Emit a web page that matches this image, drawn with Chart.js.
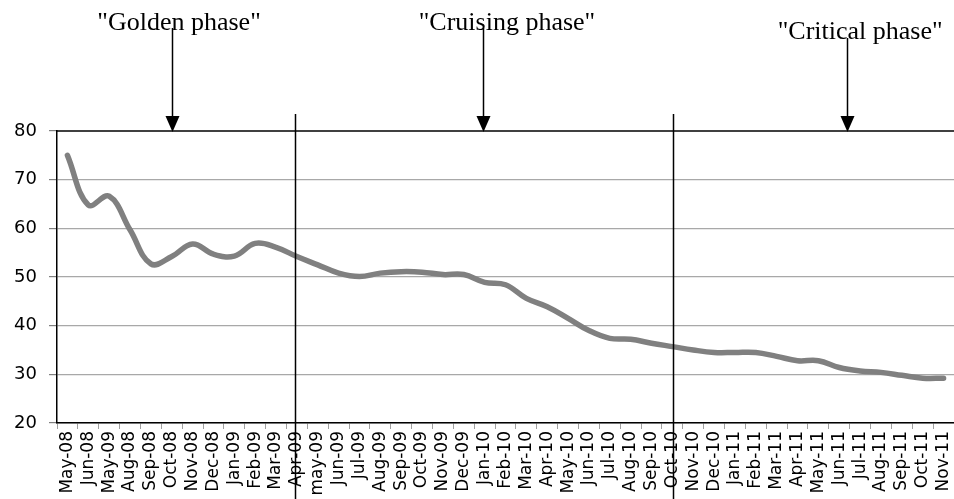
<!DOCTYPE html>
<html>
<head>
<meta charset="utf-8">
<script src="https://cdn.jsdelivr.net/npm/chart.js@4/dist/chart.umd.min.js"></script>
<style>
html,body{margin:0;padding:0;background:#fff;}
#wrap{width:954px;height:499px;position:relative;}
</style>
</head>
<body>
<div id="wrap"><canvas id="c" width="954" height="499"></canvas></div>
<script>
const categories = ['May-08','Jun-08','May-09','Aug-08','Sep-08','Oct-08','Nov-08','Dec-08','Jan-09','Feb-09','Mar-09','Apr-09',
 'may-09','Jun-09','Jul-09','Aug-09','Sep-09','Oct-09','Nov-09','Dec-09','Jan-10','Feb-10','Mar-10','Apr-10','May-10','Jun-10','Jul-10','Aug-10','Sep-10','Oct-10',
 'Nov-10','Dec-10','Jan-11','Feb-11','Mar-11','Apr-11','May-11','Jun-11','Jul-11','Aug-11','Sep-11','Oct-11','Nov-11'];
const values = [75.0,64.8,66.6,59.7,52.7,54.2,56.8,54.7,54.3,56.9,56.1,54.2,
 52.5,50.8,50.1,50.8,51.1,51.0,50.5,50.5,48.9,48.4,45.6,43.9,41.5,39.0,37.4,37.2,36.4,35.7,
 35.0,34.5,34.5,34.5,33.7,32.8,32.8,31.4,30.7,30.4,29.8,29.2,29.2];
const yTicks = [20,30,40,50,60,70,80];
const phaseLabels = ['"Golden phase"','"Cruising phase"','"Critical phase"'];
const phaseLabelAt = [5.35, 21.07, 38.0];      // category position of label centre
const phaseArrowAt = [5.03, 19.92, 37.36];     // category position of arrow
const phaseBoundaries = [10.91, 29.04];        // category position of vertical dividers

const annot = {
  id:'annot',
  afterDraw(chart){
    const ctx = chart.ctx, xs = chart.scales.x, a = chart.chartArea;
    ctx.save();
    ctx.strokeStyle='#000'; ctx.lineWidth=1.5;
    ctx.beginPath(); ctx.moveTo(a.left, a.top); ctx.lineTo(954, a.top); ctx.stroke();
    phaseBoundaries.forEach(b=>{
      const x = Math.round(xs.getPixelForValue(b))+0.5;
      ctx.beginPath(); ctx.moveTo(x, a.top-17); ctx.lineTo(x, 499); ctx.stroke();
    });
    ctx.fillStyle='#000';
    ctx.font='26px "Liberation Serif"';
    ctx.textAlign='center'; ctx.textBaseline='alphabetic';
    const baselines=[30,30,38.5];
    const starts=[28,28,38];
    phaseLabels.forEach((t,i)=>{
      ctx.fillText(t, xs.getPixelForValue(phaseLabelAt[i]), baselines[i]);
    });
    ctx.lineWidth=1.5;
    phaseArrowAt.forEach((p,i)=>{
      const x = Math.round(xs.getPixelForValue(p))+0.5;
      ctx.beginPath(); ctx.moveTo(x, starts[i]); ctx.lineTo(x, a.top-12); ctx.stroke();
      ctx.beginPath(); ctx.moveTo(x-7, a.top-15); ctx.lineTo(x+7, a.top-15); ctx.lineTo(x, a.top+1); ctx.closePath(); ctx.fill();
    });
    ctx.restore();
  }
};

new Chart(document.getElementById('c'), {
  type:'line',
  data:{labels:categories, datasets:[{data:values, borderColor:'#808080', borderWidth:5.5, pointRadius:0, tension:0.4, borderCapStyle:'round', borderJoinStyle:'round', fill:false}]},
  options:{
    responsive:false, animation:false, devicePixelRatio:1,
    layout:{padding:{top:131,right:0,left:0,bottom:0}},
    plugins:{legend:{display:false}, tooltip:{enabled:false}},
    scales:{
      x:{
        offset:true,
        grid:{offset:true, drawOnChartArea:false, drawTicks:true, tickLength:6, color:'#a0a0a0'},
        border:{display:true, color:'#000', width:1.5},
        ticks:{autoSkip:false, maxRotation:90, minRotation:90, color:'#000', padding:2, font:{family:'DejaVu Sans', size:17}},
        afterFit(s){ s.height = 76; s.paddingLeft = 0; s.paddingRight = 0; }
      },
      y:{
        min:20, max:80,
        afterBuildTicks(s){ s.ticks = yTicks.map(v=>({value:v})); },
        grid:{color:(c)=> (c.tick && c.tick.value===80) ? 'rgba(0,0,0,0)' : '#a8a8a8', tickColor:'#808080', tickLength:8, lineWidth:1.2},
        border:{display:true, color:'#000', width:1.5},
        ticks:{color:'#000', padding:12, font:{family:'DejaVu Sans', size:18}},
        afterFit(s){ s.width = 57; s.paddingTop = 0; s.paddingBottom = 0; }
      }
    }
  },
  plugins:[annot]
});
</script>
</body>
</html>
